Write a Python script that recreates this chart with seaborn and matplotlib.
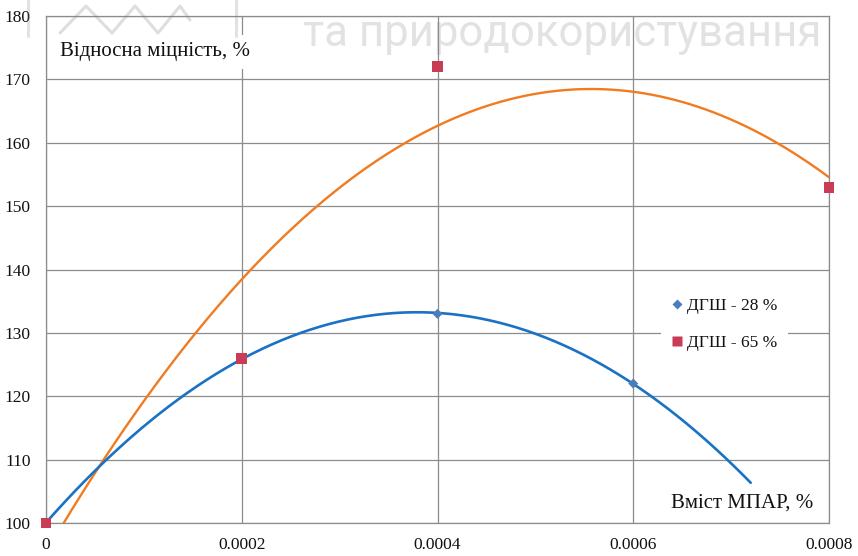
import numpy as np
import pandas as pd
import matplotlib
matplotlib.use("Agg")
import matplotlib.pyplot as plt
from matplotlib.lines import Line2D
import seaborn as sns

# measured points
x_28 = [0.0, 0.0002, 0.0004, 0.0006]
y_28 = [100, 126, 133, 122]
x_65 = [0.0, 0.0002, 0.0004, 0.0008]
y_65 = [100, 126, 172, 153]

series_names = ["ДГШ - 28 %", "ДГШ - 65 %"]
x_ticks = [0.0, 0.0002, 0.0004, 0.0006, 0.0008]
x_tick_labels = ["0", "0.0002", "0.0004", "0.0006", "0.0008"]
y_ticks = [100, 110, 120, 130, 140, 150, 160, 170, 180]

# extent of each 2nd-order trend line
trend_end_28 = 0.00072
trend_end_65 = 0.0008

sns.set_theme(style="white")
plt.rcParams["font.family"] = ["Liberation Serif", "DejaVu Serif"]

W, H = 858, 556
fig = plt.figure(figsize=(W / 100, H / 100), dpi=100)
fig.patch.set_facecolor("white")
ax = fig.add_axes([46 / W, 1 - 523 / H, 783 / W, 507 / H])
ax.set_facecolor("white")

BLUE_LINE = "#1a72c4"
ORANGE_LINE = "#f07b20"
BLUE_MARK = "#4a7ebb"
RED_MARK = "#c83c55"
GRID = "#8c8c8c"

# quadratic trend lines fitted to each series
def trend(xs, ys, x_end):
    coef = np.polyfit(xs, ys, 2)
    xx = np.linspace(0, x_end, 300)
    return pd.DataFrame({"x": xx, "y": np.polyval(coef, xx)})

t28 = trend(x_28, y_28, trend_end_28)
t65 = trend(x_65, y_65, trend_end_65)
sns.lineplot(data=t65, x="x", y="y", ax=ax, color=ORANGE_LINE, lw=1.7,
             sort=False, estimator=None, zorder=3)
sns.lineplot(data=t28, x="x", y="y", ax=ax, color=BLUE_LINE, lw=1.9,
             sort=False, estimator=None, zorder=3)

sns.scatterplot(x=x_28, y=y_28, ax=ax, marker="D", s=26, color=BLUE_MARK,
                edgecolor="none", zorder=4, clip_on=False)
sns.scatterplot(x=x_65, y=y_65, ax=ax, marker="s", s=62, color=RED_MARK,
                edgecolor="none", zorder=5, clip_on=False)

ax.set_xlim(0, 0.0008)
ax.set_ylim(100, 180)
ax.set_xticks(x_ticks)
ax.set_xticklabels(x_tick_labels)
ax.set_yticks(y_ticks)
ax.grid(True, color=GRID, lw=0.9)
for s in ax.spines.values():
    s.set_color(GRID)
    s.set_linewidth(0.9)
ax.tick_params(axis="both", which="major", direction="out", length=5,
               width=0.9, color=GRID, labelsize=12.5, labelcolor="#111111")
ax.tick_params(axis="x", pad=5)
ax.tick_params(axis="y", pad=6)
ax.set_xlabel("")
ax.set_ylabel("")

ax.text(0.018, 0.929, "Відносна міцність, %", transform=ax.transAxes,
        ha="left", va="center", fontsize=15, color="#111111", zorder=6,
        bbox=dict(boxstyle="square,pad=0.35", fc="white", ec="none"))
ax.text(0.98, 0.039, "Вміст МПАР, %", transform=ax.transAxes,
        ha="right", va="center", fontsize=15, color="#111111", zorder=6,
        bbox=dict(boxstyle="square,pad=0.4", fc="white", ec="none"))

handles = [
    Line2D([], [], ls="none", marker="D", ms=5, color=BLUE_MARK, mec="none"),
    Line2D([], [], ls="none", marker="s", ms=7.5, color=RED_MARK, mec="none"),
]
leg = ax.legend(handles, series_names, loc="center",
                bbox_to_anchor=(0.867, 0.392), frameon=True, fontsize=12.5,
                handlelength=0.6, handletextpad=0.3, labelspacing=1.2,
                borderpad=0.6, fancybox=False)
leg.get_frame().set_facecolor("white")
leg.get_frame().set_edgecolor("none")
leg.get_frame().set_alpha(1)
leg.set_zorder(6)
for t in leg.get_texts():
    t.set_color("#111111")

# faint overlay mark along the top edge
wm = "#7f7f7f"
fig.text(303 / W, 1 - 46 / H, "та природокористування", family="Roboto",
         fontsize=31.5, color=wm, alpha=0.22, ha="left", va="baseline",
         zorder=10)
zx = np.array([60, 86, 112, 135, 158, 180, 190]) / W
zy = 1 - np.array([33, 6, 33, 6, 33, 6, 20]) / H
fig.add_artist(Line2D(zx, zy, color=wm, alpha=0.25, lw=2.2,
                      transform=fig.transFigure, zorder=10))
for xv in (28, 236):
    fig.add_artist(Line2D([xv / W, xv / W], [1, 1 - 36 / H], color=wm,
                          alpha=0.22, lw=2.2, transform=fig.transFigure,
                          zorder=10))

fig.savefig("out.png", dpi=100, facecolor="white")
